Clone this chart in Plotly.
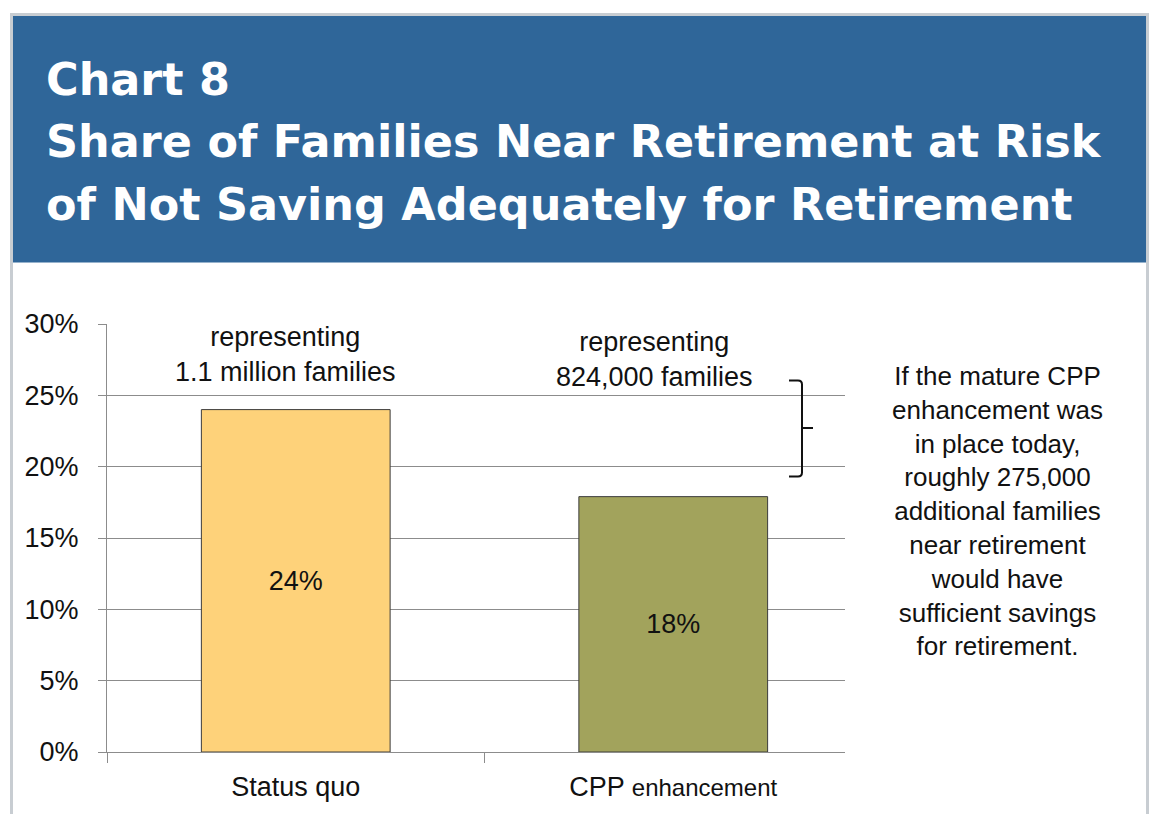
import plotly.graph_objects as go

# ---- data ----
categories = ["Status quo", "CPP enhancement"]
category_labels = ["Status quo", "CPP <span style='font-size:24px'>enhancement</span>"]
shares = [24, 17.9]
share_labels = ["24%", "18%"]
bar_colors = ["#FED27A", "#A2A35C"]
top_notes = ["representing<br>1.1 million families", "representing<br>824,000 families"]
side_note = ("If the mature CPP<br>enhancement was<br>in place today,<br>roughly 275,000<br>"
             "additional families<br>near retirement<br>would have<br>sufficient savings<br>for retirement.")
title_lines = ["Chart 8", "Share of Families Near Retirement at Risk",
               "of Not Saving Adequately for Retirement"]
y_ticks = [0, 5, 10, 15, 20, 25, 30]
y_tick_labels = ["0%", "5%", "10%", "15%", "20%", "25%", "30%"]

OFF = 8  # page body margin
W, H = 1159 - OFF, 814 - OFF
L, R, T, B = 107, 845, 324, 756  # plot area in screen pixels


def px(x):
    return (x - L) / (R - L)


def py(y):
    return (B - y) / (B - T)


BODY = "Liberation Sans, Arial, sans-serif"
GRID = "#8c8c8c"

fig = go.Figure()
fig.add_trace(go.Bar(
    x=categories, y=shares, width=0.5,
    marker=dict(color=bar_colors, line=dict(color="#3c3c3c", width=1)),
    text=share_labels, textposition="inside", insidetextanchor="middle",
    textfont=dict(family=BODY, size=27, color="#111111"),
    hoverinfo="skip",
))

shapes = []
# outer light border
shapes.append(dict(type="rect", xref="paper", yref="paper",
                   x0=px(11.5), x1=px(1147.5), y0=py(830), y1=py(11.5),
                   line=dict(color="#c8cdd2", width=3), fillcolor="rgba(0,0,0,0)", layer="below"))
# header band
shapes.append(dict(type="rect", xref="paper", yref="paper",
                   x0=px(13), x1=px(1146), y0=py(262), y1=py(13),
                   line=dict(width=0), fillcolor="#2f6699", layer="below"))
# bracket
pts = [(789, 381), (798, 381), (802, 381), (802, 385), (802, 474), (802, 478), (798, 478), (789, 478)]
def P(p):
    return f"{px(p[0]):.5f},{py(p[1]):.5f}"
path = (f"M{P(pts[0])} L{P(pts[1])} Q{P(pts[2])} {P(pts[3])} L{P(pts[4])} "
        f"Q{P(pts[5])} {P(pts[6])} L{P(pts[7])} M{P((802, 429))} L{P((813, 429))}")
shapes.append(dict(type="path", xref="paper", yref="paper", path=path,
                   line=dict(color="#111111", width=2)))

annotations = []
for line, yc in zip(title_lines, [77, 140, 203]):
    annotations.append(dict(text=f"<b>{line}</b>", xref="paper", yref="paper",
                            x=px(44), y=py(yc), xanchor="left", yanchor="middle",
                            showarrow=False,
                            font=dict(family="DejaVu Sans, Verdana, sans-serif", size=44.5, color="white")))
for note, xc, yc in zip(top_notes, [285, 654], [355, 360]):
    annotations.append(dict(text=note, xref="paper", yref="paper", x=px(xc), y=py(yc),
                            xanchor="center", yanchor="middle", showarrow=False,
                            font=dict(family=BODY, size=27, color="#111111")))
annotations.append(dict(text=side_note, xref="paper", yref="paper", x=px(997), y=py(513),
                        xanchor="center", yanchor="middle", showarrow=False, align="center",
                        font=dict(family=BODY, size=26, color="#111111")))

fig.update_layout(
    width=W, height=H,
    margin=dict(l=L - OFF, r=W - (R - OFF), t=T - OFF, b=H - (B - OFF), pad=0),
    paper_bgcolor="white", plot_bgcolor="white",
    showlegend=False,
    shapes=shapes, annotations=annotations,
    font=dict(family=BODY, size=27, color="#111111"),
    xaxis=dict(type="category", range=[-0.5, 1.455], tickmode="array",
               tickvals=categories, ticktext=category_labels,
               tickson="boundaries", ticks="outside", ticklen=10, tickcolor=GRID,
               showline=True, linecolor=GRID, linewidth=1, showgrid=False,
               tickfont=dict(family=BODY, size=27, color="#111111"),
               ticklabelstandoff=11, fixedrange=True),
    yaxis=dict(range=[0, 30], tickmode="array", tickvals=y_ticks, ticktext=y_tick_labels,
               ticks="outside", ticklen=8, tickcolor=GRID,
               showline=True, linecolor=GRID, linewidth=1,
               showgrid=True, gridcolor=GRID, gridwidth=1, zeroline=False,
               tickfont=dict(family=BODY, size=27, color="#111111"),
               ticklabelstandoff=14, fixedrange=True),
)

fig.write_html("out.html")
